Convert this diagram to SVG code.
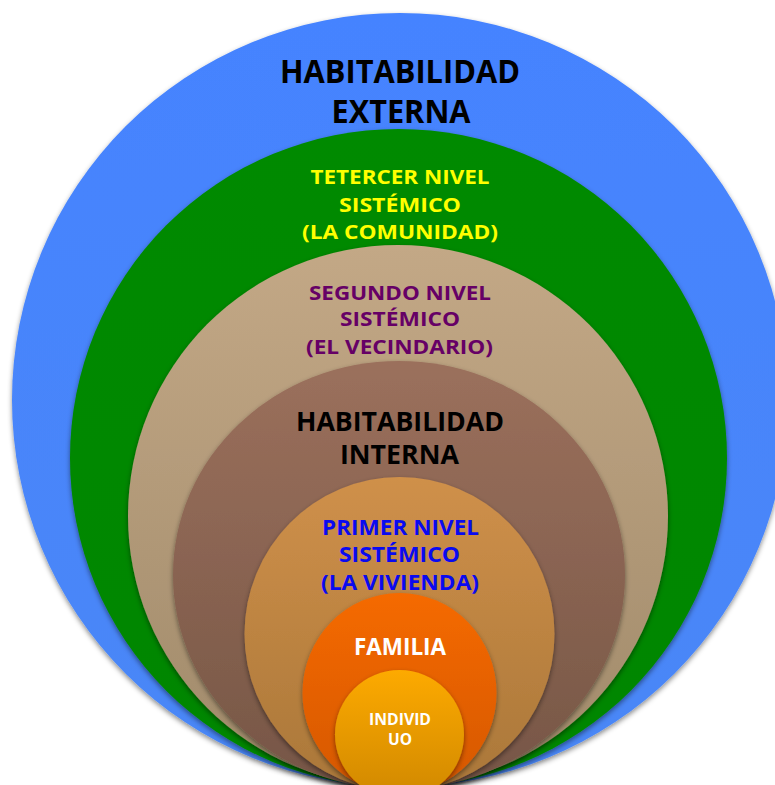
<svg xmlns="http://www.w3.org/2000/svg" width="775" height="785" viewBox="0 0 775 785">
  <style>
    .t { font-family: "Open Sans", "Liberation Sans", sans-serif; font-weight: 700; text-anchor: middle; }
    .shape { filter: url(#shadow); }
  </style>
  <defs>
    <filter id="shadow" x="-10%" y="-10%" width="120%" height="125%">
      <feDropShadow dx="0" dy="2.5" stdDeviation="2.5" flood-color="#000" flood-opacity="0.45"/>
    </filter>
    <linearGradient id="gBlue" x1="0" y1="0" x2="0" y2="1">
      <stop offset="0" stop-color="#4583FF"/><stop offset="1" stop-color="#4A87F6"/>
    </linearGradient>
    <linearGradient id="gGreen" x1="0" y1="0" x2="0" y2="1">
      <stop offset="0" stop-color="#008A00"/><stop offset="1" stop-color="#008600"/>
    </linearGradient>
    <linearGradient id="gTan" x1="0" y1="0" x2="0" y2="1">
      <stop offset="0" stop-color="#C3A886"/><stop offset="1" stop-color="#A08A6A"/>
    </linearGradient>
    <linearGradient id="gBrown" x1="0" y1="0" x2="0" y2="1">
      <stop offset="0" stop-color="#9B705C"/><stop offset="1" stop-color="#765646"/>
    </linearGradient>
    <linearGradient id="gViv" x1="0" y1="0" x2="0" y2="1">
      <stop offset="0" stop-color="#CF904A"/><stop offset="1" stop-color="#AA7739"/>
    </linearGradient>
    <linearGradient id="gFam" x1="0" y1="0" x2="0" y2="1">
      <stop offset="0" stop-color="#F56A00"/><stop offset="1" stop-color="#D55700"/>
    </linearGradient>
    <linearGradient id="gInd" x1="0" y1="0" x2="0" y2="1">
      <stop offset="0" stop-color="#FDAA00"/><stop offset="1" stop-color="#D08800"/>
    </linearGradient>
  </defs>
  <rect width="775" height="785" fill="#FFFFFF"/>

  <g id="externa">
    <ellipse class="shape" cx="400" cy="400" rx="388" ry="387" fill="url(#gBlue)"/>
    <text class="t" x="400" y="83" font-size="32" fill="#000" textLength="240" lengthAdjust="spacingAndGlyphs">HABITABILIDAD</text>
    <text class="t" x="401" y="123" font-size="32" fill="#000" textLength="139" lengthAdjust="spacingAndGlyphs">EXTERNA</text>
  </g>

  <g id="comunidad">
    <ellipse class="shape" cx="398.5" cy="458" rx="328.5" ry="329" fill="url(#gGreen)"/>
    <text class="t" x="400" y="184" font-size="20" fill="#FFFF00" textLength="179" lengthAdjust="spacingAndGlyphs">TETERCER NIVEL</text>
    <text class="t" x="400" y="212" font-size="20" fill="#FFFF00" textLength="122" lengthAdjust="spacingAndGlyphs">SISTÉMICO</text>
    <text class="t" x="400" y="239" font-size="20" fill="#FFFF00" textLength="196" lengthAdjust="spacingAndGlyphs">(LA COMUNIDAD)</text>
  </g>

  <g id="vecindario">
    <ellipse class="shape" cx="398" cy="516" rx="270" ry="271" fill="url(#gTan)"/>
    <text class="t" x="400" y="300" font-size="20" fill="#660066" textLength="182" lengthAdjust="spacingAndGlyphs">SEGUNDO NIVEL</text>
    <text class="t" x="400" y="326" font-size="20" fill="#660066" textLength="120" lengthAdjust="spacingAndGlyphs">SISTÉMICO</text>
    <text class="t" x="399.5" y="354" font-size="20" fill="#660066" textLength="187" lengthAdjust="spacingAndGlyphs">(EL VECINDARIO)</text>
  </g>

  <g id="interna">
    <ellipse class="shape" cx="399" cy="575" rx="226" ry="214" fill="url(#gBrown)"/>
    <text class="t" x="400" y="431" font-size="26" fill="#000" textLength="208" lengthAdjust="spacingAndGlyphs">HABITABILIDAD</text>
    <text class="t" x="399.5" y="464" font-size="26" fill="#000" textLength="119" lengthAdjust="spacingAndGlyphs">INTERNA</text>
  </g>

  <g id="vivienda">
    <ellipse class="shape" cx="399.5" cy="634" rx="155" ry="157" fill="url(#gViv)"/>
    <text class="t" x="400.5" y="535" font-size="22" fill="#0A0AF0" textLength="157" lengthAdjust="spacingAndGlyphs">PRIMER NIVEL</text>
    <text class="t" x="399.5" y="562" font-size="22" fill="#0A0AF0" textLength="121" lengthAdjust="spacingAndGlyphs">SISTÉMICO</text>
    <text class="t" x="400" y="590" font-size="22" fill="#0A0AF0" textLength="158" lengthAdjust="spacingAndGlyphs">(LA VIVIENDA)</text>
  </g>

  <g id="familia">
    <ellipse class="shape" cx="399.5" cy="693" rx="97" ry="100" fill="url(#gFam)"/>
    <text class="t" x="400" y="655" font-size="24" fill="#FFFFFF" textLength="92" lengthAdjust="spacingAndGlyphs">FAMILIA</text>
  </g>

  <g id="individuo">
    <circle class="shape" cx="399.5" cy="734.5" r="64.5" fill="url(#gInd)"/>
    <text class="t" x="400" y="724.5" font-size="16" fill="#FFFFFF" textLength="62" lengthAdjust="spacingAndGlyphs">INDIVID</text>
    <text class="t" x="400" y="744.5" font-size="16" fill="#FFFFFF" textLength="24" lengthAdjust="spacingAndGlyphs">UO</text>
  </g>

  <g id="connectors"></g>
</svg>
